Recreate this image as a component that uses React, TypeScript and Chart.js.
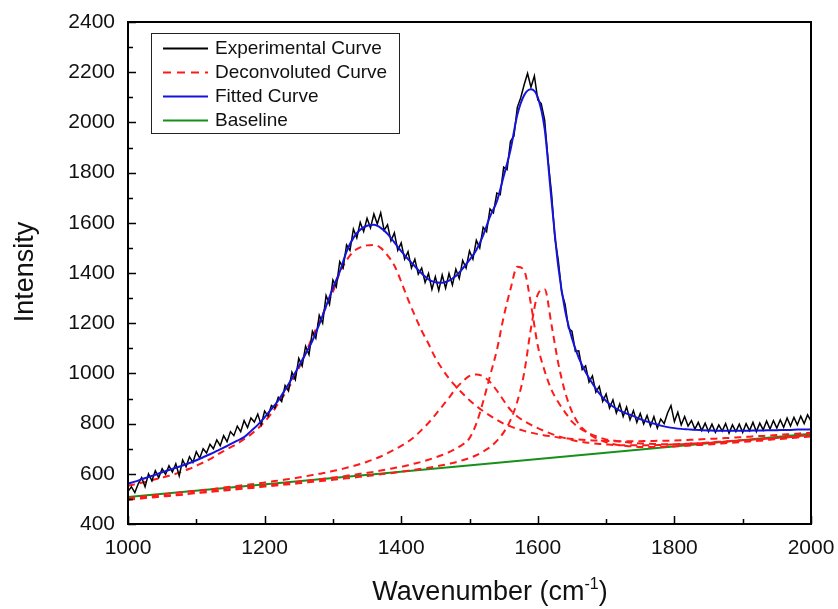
import React, { useEffect, useRef } from "react";
import { Chart, registerables } from "chart.js";

Chart.register(...registerables);

// ---------- data ----------
const X_SMOOTH = [
  1000, 1010, 1020, 1030, 1040, 1050, 1060, 1070, 1080, 1090,
  1100, 1110, 1120, 1130, 1140, 1150, 1160, 1170, 1180, 1190,
  1200, 1210, 1220, 1230, 1240, 1250, 1260, 1270, 1280, 1290,
  1300, 1310, 1320, 1330, 1340, 1350, 1360, 1370, 1380, 1390,
  1400, 1410, 1420, 1430, 1440, 1450, 1460, 1470, 1480, 1490,
  1500, 1510, 1520, 1530, 1540, 1550, 1560, 1570, 1580, 1590,
  1600, 1610, 1620, 1630, 1640, 1650, 1660, 1670, 1680, 1690,
  1700, 1710, 1720, 1730, 1740, 1750, 1760, 1770, 1780, 1790,
  1800, 1810, 1820, 1830, 1840, 1850, 1860, 1870, 1880, 1890,
  1900, 1910, 1920, 1930, 1940, 1950, 1960, 1970, 1980, 1990, 2000,
];

const X_EXP = [
  1000, 1005, 1010, 1015, 1020, 1025, 1030, 1035, 1040, 1045,
  1050, 1055, 1060, 1065, 1070, 1075, 1080, 1085, 1090, 1095,
  1100, 1105, 1110, 1115, 1120, 1125, 1130, 1135, 1140, 1145,
  1150, 1155, 1160, 1165, 1170, 1175, 1180, 1185, 1190, 1195,
  1200, 1205, 1210, 1215, 1220, 1225, 1230, 1235, 1240, 1245,
  1250, 1255, 1260, 1265, 1270, 1275, 1280, 1285, 1290, 1295,
  1300, 1305, 1310, 1315, 1320, 1325, 1330, 1335, 1340, 1345,
  1350, 1355, 1360, 1365, 1370, 1375, 1380, 1385, 1390, 1395,
  1400, 1405, 1410, 1415, 1420, 1425, 1430, 1435, 1440, 1445,
  1450, 1455, 1460, 1465, 1470, 1475, 1480, 1485, 1490, 1495,
  1500, 1505, 1510, 1515, 1520, 1525, 1530, 1535, 1540, 1545,
  1550, 1555, 1560, 1565, 1570, 1575, 1580, 1585, 1590, 1595,
  1600, 1605, 1610, 1615, 1620, 1625, 1630, 1635, 1640, 1645,
  1650, 1655, 1660, 1665, 1670, 1675, 1680, 1685, 1690, 1695,
  1700, 1705, 1710, 1715, 1720, 1725, 1730, 1735, 1740, 1745,
  1750, 1755, 1760, 1765, 1770, 1775, 1780, 1785, 1790, 1795,
  1800, 1805, 1810, 1815, 1820, 1825, 1830, 1835, 1840, 1845,
  1850, 1855, 1860, 1865, 1870, 1875, 1880, 1885, 1890, 1895,
  1900, 1905, 1910, 1915, 1920, 1925, 1930, 1935, 1940, 1945,
  1950, 1955, 1960, 1965, 1970, 1975, 1980, 1985, 1990, 1995, 2000,
];

const EXPERIMENTAL = [
  530, 548, 525, 560, 585, 548, 600, 572, 612, 585,
  620, 598, 632, 607, 640, 592, 655, 628, 668, 645,
  688, 662, 700, 683, 718, 700, 735, 712, 752, 728,
  768, 752, 790, 768, 812, 784, 822, 806, 838, 795,
  850, 830, 872, 862, 905, 888, 952, 930, 1005, 975,
  1060, 1030, 1108, 1075, 1168, 1140, 1232, 1200, 1310, 1275,
  1372, 1345, 1445, 1420, 1512, 1490, 1575, 1540, 1602, 1565,
  1618, 1580, 1635, 1595, 1640, 1570, 1592, 1528, 1560, 1490,
  1520, 1455, 1485, 1420, 1455, 1395, 1420, 1362, 1398, 1335,
  1385, 1330, 1392, 1340, 1398, 1352, 1415, 1378, 1450, 1420,
  1488, 1455, 1530, 1500, 1582, 1565, 1655, 1640, 1718, 1712,
  1822, 1812, 1925, 1945, 2060, 2098, 2150, 2195, 2140, 2185,
  2090, 2075, 2010, 1850, 1720, 1540, 1450, 1322, 1275, 1180,
  1168, 1088, 1090, 1015, 1030, 965, 990, 925, 948, 888,
  918, 862, 895, 842, 878, 828, 866, 815, 852, 805,
  840, 798, 832, 790, 828, 782, 818, 800, 842, 872,
  808, 845, 795, 828, 790, 812, 778, 805, 772, 802,
  768, 798, 765, 795, 770, 800, 762, 795, 768, 798,
  765, 800, 772, 805, 768, 802, 775, 810, 778, 812,
  782, 815, 785, 822, 790, 825, 795, 830, 800, 835, 810,
];

const FITTED = [
  561, 569, 578, 587, 596, 606, 615, 624, 633, 643,
  654, 666, 678, 691, 704, 718, 732, 746, 770, 795,
  825, 858, 892, 935, 980, 1028, 1078, 1130, 1195, 1268,
  1340, 1405, 1485, 1540, 1572, 1588, 1592, 1580, 1556, 1522,
  1487, 1455, 1427, 1398, 1374, 1363, 1361, 1370, 1388, 1418,
  1452, 1492, 1550, 1625, 1685, 1785, 1890, 2030, 2108, 2132,
  2100, 1975, 1692, 1425, 1250, 1140, 1062, 1005, 960, 920,
  890, 868, 852, 840, 830, 818, 808, 800, 792, 786,
  782, 779, 777, 775, 774, 773, 772, 772, 772, 772,
  772, 772, 773, 773, 774, 774, 775, 775, 776, 776, 777,
];

const PEAK_D = [
  552, 558, 564, 570, 578, 585, 592, 600, 610, 620,
  632, 645, 658, 675, 690, 705, 720, 738, 757, 780,
  808, 840, 880, 920, 965, 1020, 1080, 1145, 1205, 1265,
  1325, 1400, 1450, 1485, 1502, 1510, 1512, 1500, 1470, 1430,
  1365, 1295, 1230, 1170, 1118, 1062, 1018, 980, 948, 920,
  893, 870, 850, 832, 815, 800, 789, 779, 771, 764,
  758, 753, 749, 745, 742, 739, 737, 735, 733, 732,
  731, 730, 730, 730, 730, 730, 731, 731, 732, 732,
  733, 734, 735, 736, 738, 739, 740, 742, 743, 745,
  746, 748, 750, 751, 753, 755, 757, 758, 760, 762, 764,
];

const PEAK_1510 = [
  503, 506, 509, 512, 515, 518, 521, 524, 527, 530,
  532, 535, 538, 541, 545, 548, 551, 555, 558, 562,
  565, 569, 573, 577, 581, 585, 590, 595, 600, 605,
  611, 617, 624, 631, 639, 648, 658, 669, 682, 696,
  711, 728, 749, 775, 803, 835, 869, 903, 940, 968,
  990, 996, 988, 966, 932, 892, 855, 828, 810, 795,
  782, 770, 759, 750, 742, 735, 729, 725, 722, 719,
  717, 715, 714, 714, 714, 714, 714, 714, 715, 716,
  717, 718, 720, 721, 723, 725, 727, 728, 730, 732,
  734, 735, 737, 739, 741, 743, 745, 747, 750, 752, 754,
];

const PEAK_1575 = [
  499, 501, 504, 506, 509, 511, 514, 516, 519, 522,
  525, 527, 530, 533, 536, 539, 542, 545, 548, 550,
  553, 556, 559, 562, 565, 568, 571, 575, 578, 581,
  585, 588, 592, 596, 600, 604, 608, 613, 618, 623,
  628, 634, 641, 648, 656, 665, 675, 686, 700, 717,
  742, 800, 888, 990, 1092, 1225, 1335, 1425, 1410, 1275,
  1110, 1010, 935, 885, 845, 808, 785, 768, 755, 745,
  737, 733, 729, 726, 723, 721, 720, 719, 718, 718,
  718, 719, 720, 721, 722, 723, 725, 727, 728, 730,
  732, 734, 736, 738, 740, 742, 744, 746, 748, 750, 752,
];

const PEAK_1605 = [
  497, 500, 502, 505, 507, 510, 512, 515, 517, 520,
  523, 525, 528, 530, 533, 535, 538, 541, 543, 546,
  549, 551, 554, 557, 559, 562, 565, 568, 570, 573,
  576, 579, 582, 585, 588, 591, 594, 598, 601, 604,
  608, 612, 616, 620, 624, 629, 634, 640, 646, 654,
  663, 674, 689, 706, 731, 765, 814, 888, 1001, 1180,
  1315, 1335, 1195, 1040, 925, 848, 798, 770, 750, 736,
  726, 719, 714, 711, 709, 707, 707, 707, 707, 708,
  709, 710, 712, 714, 715, 717, 719, 721, 723, 725,
  727, 729, 731, 733, 736, 738, 740, 742, 745, 747, 749,
];

const BASELINE_X = [1000, 2000];
const BASELINE = [508, 760];

const X_MAJOR = [1000, 1200, 1400, 1600, 1800, 2000];
const X_MINOR = [1100, 1300, 1500, 1700, 1900];
const Y_MAJOR = [400, 600, 800, 1000, 1200, 1400, 1600, 1800, 2000, 2200, 2400];
const Y_MINOR = [500, 700, 900, 1100, 1300, 1500, 1700, 1900, 2100, 2300];

const LEGEND_LABELS = ["Experimental Curve", "Deconvoluted Curve", "Fitted Curve", "Baseline"];

// ---------- styles ----------
const FONT = '"Liberation Sans", Arial, Helvetica, sans-serif';
const C_EXP = "#000000";
const C_DEC = "#ff1a1a";
const C_FIT = "#1414dc";
const C_BASE = "#17901a";
const DASH = [7, 5];

const LEGEND_STYLES = [
  { color: C_EXP, dash: [] as number[], width: 2 },
  { color: C_DEC, dash: [8, 6], width: 2 },
  { color: C_FIT, dash: [] as number[], width: 2 },
  { color: C_BASE, dash: [] as number[], width: 2 },
];

const pts = (xs: number[], ys: number[]) => xs.map((x, i) => ({ x, y: ys[i] }));

const decorPlugin = {
  id: "ramanDecor",
  afterDatasetsDraw(chart: any) {
    const { ctx, chartArea: a, scales } = chart;
    const xs = scales.x;
    const ys = scales.y;
    ctx.save();
    ctx.setLineDash([]);
    ctx.strokeStyle = "#000";
    ctx.lineWidth = 2;
    ctx.strokeRect(a.left, a.top, a.right - a.left, a.bottom - a.top);
    ctx.lineWidth = 1.5;
    ctx.beginPath();
    X_MAJOR.forEach((v) => {
      const p = Math.round(xs.getPixelForValue(v)) + 0.5;
      ctx.moveTo(p, a.bottom);
      ctx.lineTo(p, a.bottom - 8);
    });
    X_MINOR.forEach((v) => {
      const p = Math.round(xs.getPixelForValue(v)) + 0.5;
      ctx.moveTo(p, a.bottom);
      ctx.lineTo(p, a.bottom - 5);
    });
    Y_MAJOR.forEach((v) => {
      const p = Math.round(ys.getPixelForValue(v)) + 0.5;
      ctx.moveTo(a.left, p);
      ctx.lineTo(a.left + 8, p);
    });
    Y_MINOR.forEach((v) => {
      const p = Math.round(ys.getPixelForValue(v)) + 0.5;
      ctx.moveTo(a.left, p);
      ctx.lineTo(a.left + 5, p);
    });
    ctx.stroke();
    ctx.restore();
  },
  afterDraw(chart: any) {
    const { ctx } = chart;
    ctx.save();
    const bx = 151, by = 33, bw = 248, bh = 100;
    ctx.fillStyle = "#fff";
    ctx.fillRect(bx, by, bw, bh);
    ctx.strokeStyle = "#222";
    ctx.lineWidth = 1;
    ctx.setLineDash([]);
    ctx.strokeRect(bx + 0.5, by + 0.5, bw, bh);
    ctx.font = `19px ${FONT}`;
    ctx.textBaseline = "middle";
    ctx.textAlign = "left";
    LEGEND_LABELS.forEach((label, i) => {
      const y = 48 + i * 24;
      const st = LEGEND_STYLES[i];
      ctx.beginPath();
      ctx.setLineDash(st.dash);
      ctx.strokeStyle = st.color;
      ctx.lineWidth = st.width;
      ctx.moveTo(163, y + 0.5);
      ctx.lineTo(208, y + 0.5);
      ctx.stroke();
      ctx.setLineDash([]);
      ctx.fillStyle = "#111";
      ctx.fillText(label, 215, y + 1);
    });
    ctx.fillStyle = "#111";
    ctx.save();
    ctx.translate(33, 272);
    ctx.rotate(-Math.PI / 2);
    ctx.font = `27px ${FONT}`;
    ctx.textAlign = "center";
    ctx.textBaseline = "alphabetic";
    ctx.fillText("Intensity", 0, 0);
    ctx.restore();
    const main = "Wavenumber (cm";
    const sup = "-1";
    const close = ")";
    ctx.textBaseline = "alphabetic";
    ctx.textAlign = "left";
    ctx.font = `27px ${FONT}`;
    const w1 = ctx.measureText(main).width;
    const w3 = ctx.measureText(close).width;
    ctx.font = `16px ${FONT}`;
    const w2 = ctx.measureText(sup).width;
    const total = w1 + w2 + w3;
    const x0 = 490 - total / 2;
    const base = 600;
    ctx.font = `27px ${FONT}`;
    ctx.fillText(main, x0, base);
    ctx.font = `16px ${FONT}`;
    ctx.fillText(sup, x0 + w1, base - 11);
    ctx.font = `27px ${FONT}`;
    ctx.fillText(close, x0 + w1 + w2, base);
    ctx.restore();
  },
};

export default function App() {
  const canvasRef = useRef<HTMLCanvasElement | null>(null);

  useEffect(() => {
    document.body.style.margin = "0";
    const canvas = canvasRef.current;
    if (!canvas) return;
    const lineDefaults = { pointRadius: 0, fill: false };
    const chart = new Chart(canvas, {
      type: "line",
      data: {
        datasets: [
          {
            ...lineDefaults,
            label: "Fitted Curve",
            data: pts(X_SMOOTH, FITTED),
            borderColor: C_FIT,
            borderWidth: 2,
            cubicInterpolationMode: "monotone",
            order: 0,
          },
          {
            ...lineDefaults,
            label: "Experimental Curve",
            data: pts(X_EXP, EXPERIMENTAL),
            borderColor: C_EXP,
            borderWidth: 1.5,
            tension: 0,
            order: 1,
          },
          {
            ...lineDefaults,
            label: "Deconvoluted Curve",
            data: pts(X_SMOOTH, PEAK_D),
            borderColor: C_DEC,
            borderWidth: 2,
            borderDash: DASH,
            cubicInterpolationMode: "monotone",
            order: 2,
          },
          {
            ...lineDefaults,
            label: "Deconvoluted Curve 2",
            data: pts(X_SMOOTH, PEAK_1510),
            borderColor: C_DEC,
            borderWidth: 2,
            borderDash: DASH,
            cubicInterpolationMode: "monotone",
            order: 2,
          },
          {
            ...lineDefaults,
            label: "Deconvoluted Curve 3",
            data: pts(X_SMOOTH, PEAK_1575),
            borderColor: C_DEC,
            borderWidth: 2,
            borderDash: DASH,
            cubicInterpolationMode: "monotone",
            order: 2,
          },
          {
            ...lineDefaults,
            label: "Deconvoluted Curve 4",
            data: pts(X_SMOOTH, PEAK_1605),
            borderColor: C_DEC,
            borderWidth: 2,
            borderDash: DASH,
            cubicInterpolationMode: "monotone",
            order: 2,
          },
          {
            ...lineDefaults,
            label: "Baseline",
            data: pts(BASELINE_X, BASELINE),
            borderColor: C_BASE,
            borderWidth: 2,
            order: 3,
          },
        ],
      },
      options: {
        responsive: false,
        maintainAspectRatio: false,
        animation: false,
        layout: { autoPadding: false, padding: { left: 0, right: 27, top: 22, bottom: 0 } },
        plugins: { legend: { display: false }, tooltip: { enabled: false } },
        scales: {
          x: {
            type: "linear",
            min: 1000,
            max: 2000,
            grid: { display: false, drawTicks: false },
            border: { display: false },
            ticks: {
              stepSize: 200,
              padding: 12,
              color: "#111",
              font: { family: FONT, size: 21 },
              maxRotation: 0,
              autoSkip: false,
              callback: (v: any) => String(v),
            },
            afterFit: (s: any) => {
              s.height = 85;
              s.paddingLeft = 0;
              s.paddingRight = 0;
            },
          },
          y: {
            type: "linear",
            min: 400,
            max: 2400,
            grid: { display: false, drawTicks: false },
            border: { display: false },
            ticks: {
              stepSize: 200,
              padding: 13,
              color: "#111",
              font: { family: FONT, size: 21 },
              autoSkip: false,
              callback: (v: any) => String(v),
            },
            afterFit: (s: any) => {
              s.width = 128;
              s.paddingTop = 0;
              s.paddingBottom = 0;
            },
          },
        },
      },
      plugins: [decorPlugin],
    } as any);
    return () => chart.destroy();
  }, []);

  return (
    <div style={{ width: 838, height: 609, background: "#fff" }}>
      <canvas ref={canvasRef} width={838} height={609} style={{ display: "block" }} />
    </div>
  );
}
